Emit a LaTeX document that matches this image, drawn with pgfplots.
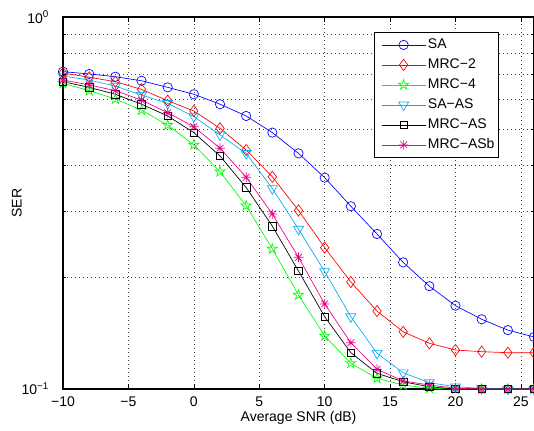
\documentclass[border=0pt]{standalone}
\usepackage{fontspec}
\setmainfont{Liberation Sans}
\usepackage{pgfplots}
\pgfplotsset{compat=1.18}
\usetikzlibrary{plotmarks}

\pgfdeclareplotmark{pentagram}{%
  \pgfpathmoveto{\pgfpointpolar{90}{\pgfplotmarksize}}%
  \pgfpathlineto{\pgfpointpolar{126}{0.382\pgfplotmarksize}}%
  \pgfpathlineto{\pgfpointpolar{162}{\pgfplotmarksize}}%
  \pgfpathlineto{\pgfpointpolar{198}{0.382\pgfplotmarksize}}%
  \pgfpathlineto{\pgfpointpolar{234}{\pgfplotmarksize}}%
  \pgfpathlineto{\pgfpointpolar{270}{0.382\pgfplotmarksize}}%
  \pgfpathlineto{\pgfpointpolar{306}{\pgfplotmarksize}}%
  \pgfpathlineto{\pgfpointpolar{342}{0.382\pgfplotmarksize}}%
  \pgfpathlineto{\pgfpointpolar{18}{\pgfplotmarksize}}%
  \pgfpathlineto{\pgfpointpolar{54}{0.382\pgfplotmarksize}}%
  \pgfpathclose
  \pgfusepathqstroke}
\pgfdeclareplotmark{mstar}{%
  \pgfpathmoveto{\pgfqpoint{0pt}{\pgfplotmarksize}}%
  \pgfpathlineto{\pgfqpoint{0pt}{-\pgfplotmarksize}}%
  \pgfpathmoveto{\pgfqpoint{\pgfplotmarksize}{0pt}}%
  \pgfpathlineto{\pgfqpoint{-\pgfplotmarksize}{0pt}}%
  \pgfpathmoveto{\pgfpointpolar{45}{\pgfplotmarksize}}%
  \pgfpathlineto{\pgfpointpolar{225}{\pgfplotmarksize}}%
  \pgfpathmoveto{\pgfpointpolar{135}{\pgfplotmarksize}}%
  \pgfpathlineto{\pgfpointpolar{315}{\pgfplotmarksize}}%
  \pgfusepathqstroke}

\pgfplotstableread{
x     sa     mrc2    mrc4    saas    mrcas   mrcasb
-10   0.713  0.707   0.663   0.694   0.670   0.677
-8    0.703  0.689   0.634   0.677   0.647   0.657
-6    0.691  0.670   0.602   0.652   0.620   0.634
-4    0.674  0.639   0.562   0.617   0.583   0.598
-2    0.647  0.596   0.512   0.586   0.542   0.553
0     0.620  0.559   0.453   0.540   0.489   0.507
2     0.583  0.502   0.384   0.482   0.423   0.444
4     0.542  0.439   0.311   0.430   0.348   0.371
6     0.489  0.372   0.238   0.346   0.274   0.2954
8     0.430  0.302   0.179   0.269   0.2076  0.226
10    0.370  0.240   0.1389  0.207   0.1565  0.1693
12    0.310  0.194   0.1173  0.1565  0.1252  0.1332
14    0.261  0.162   0.1069  0.1248  0.1102  0.113
16    0.219  0.1425  0.1025  0.1106  0.1046  0.1051
18    0.189  0.1327  0.1005  0.104   0.1014  0.1025
20    0.1675 0.1273  0.1     0.1014  0.1     0.1005
22    0.154  0.126   0.1     0.1004  0.1     0.1
24    0.144  0.1252  0.1     0.1     0.1     0.1
26    0.138  0.1252  0.1     0.1     0.1     0.1
}\datatable

\begin{document}
\begin{tikzpicture}
\begin{axis}[
  at={(0,0)}, anchor=south west,
  scale only axis,
  width=353.25pt, height=279pt,
  ymode=log,
  xmin=-10, xmax=26, ymin=0.1, ymax=1,
  xtick={-10,-5,0,5,10,15,20,25},
  xticklabels={−10,−5,0,5,10,15,20,25},
  ytick={0.1,1},
  yticklabels={10\textsuperscript{−1},10\textsuperscript{0}},
  minor ytick={0.2,0.3,0.4,0.5,0.6,0.7,0.8,0.9},
  xmajorgrids, ymajorgrids, yminorgrids,
  major grid style={black!75, dash pattern=on 0.6pt off 2.4pt},
  minor grid style={black!75, dash pattern=on 0.6pt off 2.4pt},
  tick align=inside,
  major tick length=4pt, minor tick length=2.5pt,
  tick style={black, line width=0.5pt},
  axis line style={black, line width=0.8pt},
  ticklabel style={font=\fontsize{10.5}{12}\selectfont},
  yticklabel style={xshift=-7pt},
  xticklabel style={yshift=-2pt},
  xlabel={Average SNR (dB)},
  ylabel={SER},
  label style={font=\fontsize{10.5}{12}\selectfont},
  xlabel style={at={(axis description cs:0.5,-0.078)}, anchor=center},
  ylabel style={at={(axis description cs:-0.098,0.5)}, anchor=center},
  legend style={at={(axis description cs:0.9257,0.9605)}, anchor=north east,
    font=\fontsize{10.5}{12}\selectfont, draw=black, line width=0.8pt,
    inner xsep=1.5pt, inner ysep=2pt, row sep=0pt,
    nodes={text height=8pt, text depth=2.5pt, inner xsep=1.5pt, inner ysep=2.25pt},
    cells={anchor=west}},
  legend image code/.code={%
    \path (0pt,0pt) (36.75pt,0pt);
    \draw[#1, line width=0.5pt] (3.75pt,0pt) -- (36.75pt,0pt);
    \draw[#1, line width=0.5pt, mark repeat=2, mark phase=2] plot coordinates {(3.75pt,0pt) (20.25pt,0pt) (36.75pt,0pt)};
  },
  every axis plot/.append style={line width=0.5pt},
]
\addplot[blue, mark=o, mark size=3.5pt] table[x=x,y=sa] {\datatable};
\addlegendentry{SA}
\addplot[red, mark=diamond, mark size=4.2pt] table[x=x,y=mrc2] {\datatable};
\addlegendentry{MRC−2}
\addplot[green, mark=pentagram, mark size=4pt] table[x=x,y=mrc4] {\datatable};
\addlegendentry{MRC−4}
\addplot[cyan, mark=triangle, mark size=4.3pt, mark options={rotate=180}] table[x=x,y=saas] {\datatable};
\addlegendentry{SA−AS}
\addplot[black, mark=square, mark size=2.8pt] table[x=x,y=mrcas] {\datatable};
\addlegendentry{MRC−AS}
\addplot[magenta, mark=mstar, mark size=3.6pt] table[x=x,y=mrcasb] {\datatable};
\addlegendentry{MRC−ASb}
\end{axis}
\pgfresetboundingbox
\path (-47.25pt,-30.75pt) rectangle (353.25pt,291.75pt);
\end{tikzpicture}
\end{document}
